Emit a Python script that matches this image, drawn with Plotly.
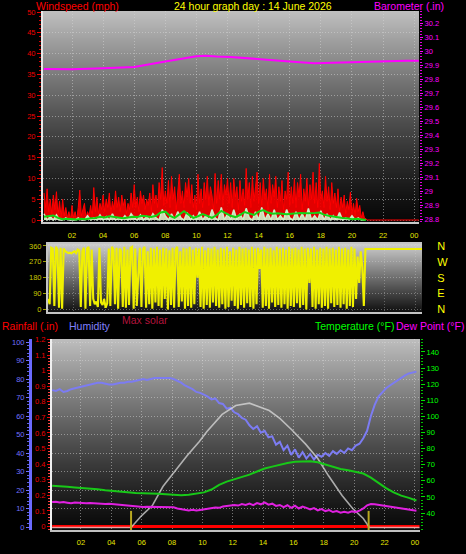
import numpy as np
import plotly.graph_objects as go

# ---------------- data ----------------
hour_ticks = [2, 4, 6, 8, 10, 12, 14, 16, 18, 20, 22, 24]
hour_labels = ["02", "04", "06", "08", "10", "12", "14", "16", "18", "20", "22", "00"]

# wind gust (mph), one reading every 0.1 h starting 00:12
gust_mph = [6.5, 3, 7.5, 2, 5, 1.5, 6, 2.5, 6.8,
            1, 4.5, 0.5, 5, 1, 3, 0.5, 2, 0, 3.5,
            0.5, 2, 0, 3, 7.2, 1, 2.5, 4, 0.5, 2,
            1, 3.5, 0.5, 7.8, 2, 5.5, 1.5, 4, 2.5, 6,
            2, 5, 3, 6.5, 1.5, 4.5, 2.5, 7, 3, 5.5,
            2, 6, 3.5, 5, 1.5, 4, 2.5, 6.5, 3, 8.5,
            3, 5.5, 2, 7, 4, 6, 2.5, 5, 3.5, 6.5,
            2, 8.5, 4, 6, 3, 9, 5, 12.6, 3.5, 7,
            4, 9.5, 3, 10.5, 5, 8, 2.5, 6.5, 11, 4,
            7, 3, 9, 5.5, 10, 4, 8.5, 3, 6, 2.5,
            11, 4, 7.5, 3, 9, 5, 10.5, 3.5, 8, 6,
            2.5, 11.2, 4, 9.5, 5, 11, 3.5, 8.5, 6, 10,
            4, 9, 3, 10, 5.5, 8, 2.5, 9.5, 4.5, 7.5,
            3.5, 12.4, 5, 9, 3, 10.5, 4.5, 8, 11.5, 4,
            9, 3.5, 10, 5, 7.5, 2.5, 11, 4, 8.5, 5.5,
            10.5, 3, 8, 4.5, 9.5, 2.5, 7, 5, 11.5, 3.5,
            8, 4, 10, 3, 9, 5.5, 11, 2.5, 7.5, 4.5,
            10, 3.5, 8.5, 5, 11.5, 4, 9, 3, 13.6, 5,
            7, 3, 10.5, 4.5, 8, 2.5, 9, 4, 6.5, 3,
            7.5, 2, 5.5, 3, 6, 1.5, 4.5, 2.5, 6.7, 1.5,
            4, 1, 5.2, 2, 3.5, 0.5, 2, 0.5, 0.2]
gust_calm_hours = [21.0, 24.3]
gust_calm_mph = [0, 0]

# average wind (mph), every 0.3 h starting 00:12
avg_mph = [0.8, 1.0, 1.1, 0.5, 0.2, 0.3, 0.2, 0.1, 0.3, 0.2, 0.4, 0.5, 0.8, 0.6, 0.9,
           0.7, 0.5, 0.4, 0.6, 0.8, 0.7, 1.0, 0.9, 0.7, 1.0, 1.8, 2.0, 1.0, 0.5, 1.4,
           2.1, 1.3, 0.5, 0.9, 1.4, 1.0, 0.5, 1.2, 2.2, 1.6, 1.0, 0.7, 1.2, 1.9, 1.5,
           1.2, 2.0, 2.4, 1.8, 1.5, 1.6, 1.5, 1.4, 1.5, 1.6, 1.7, 1.6, 1.6, 1.7, 1.8,
           1.3, 1.0, 0.8, 0.6, 0.5, 0.4, 0.2, 0.3, 0.1, 0.0]

# instantaneous wind (mph), every 0.2 h starting 00:12
wind_mph = [1.5, 0, 0.8, 0, 1.2, 0, 0, 0.5, 0, 0,
            0, 0.5, 0, 0, 1, 0, 0.5, 0, 1.2, 0,
            0.8, 0, 1.5, 0, 0.5, 0, 1, 0, 1.5, 0.5,
            0, 1.2, 0, 0.8, 0, 1.5, 0.5, 0, 2.5, 1,
            0, 1.5, 0, 2, 0.5, 0, 1.8, 0, 1, 0,
            2, 0, 1, 0, 2.5, 0.5, 0, 3, 0, 1.5,
            0, 2.5, 0, 1.5, 0, 2.8, 0.5, 0, 2, 0,
            3, 0, 1.5, 0, 2.5, 0, 1, 0, 2.5, 0.5,
            0, 2, 0, 1.5, 0, 2.8, 0, 1, 0, 2.2,
            0, 1.5, 0, 1, 0, 1.8, 0, 0.5, 0, 1,
            0, 0.5, 0, 0]

# barometer (in)
baro_hours = [0.2, 2, 4, 6, 8, 9, 10, 10.6, 11.3, 12.2, 13, 14.1, 15, 16.2, 17.6, 18.5, 20, 21, 22.6, 23.5, 24.3]
baro_in = [29.871, 29.870, 29.876, 29.886, 29.925, 29.945, 29.962, 29.966, 29.960, 29.958, 29.952,
           29.942, 29.934, 29.923, 29.912, 29.915, 29.920, 29.924, 29.933, 29.931, 29.930]

# wind direction (deg), every 0.1 h starting 00:24
dir_deg = [60, 30, 350, 345, 20, 355, 340, 10, 350, 5,
           345, 330, 325, 320, 322, 318, 325, 330, 320, 340,
           335, 15, 330, 350, 5, 345, 355, 20, 340, 60,
           30, 45, 15, 350, 40, 25, 60, 10, 35, 345,
           20, 355, 340, 30, 350, 5, 345, 330, 15, 355,
           10, 340, 25, 350, 355, 5, 345, 20, 200, 350,
           15, 340, 355, 10, 330, 30, 350, 5, 345, 40,
           355, 20, 340, 10, 350, 60, 345, 0, 335, 25,
           350, 10, 340, 355, 15, 330, 45, 350, 5, 345,
           20, 355, 10, 340, 30, 350, 180, 345, 15, 355,
           5, 335, 25, 350, 10, 345, 40, 355, 20, 340,
           10, 350, 30, 345, 5, 355, 15, 330, 50, 350,
           20, 340, 5, 355, 25, 345, 10, 350, 35, 340,
           15, 355, 5, 345, 30, 350, 230, 340, 10, 355,
           20, 345, 5, 350, 40, 335, 15, 355, 25, 345,
           10, 350, 30, 340, 5, 355, 20, 345, 15, 350,
           35, 340, 10, 355, 25, 345, 0, 350, 150, 345,
           15, 355, 5, 340, 30, 350, 10, 345, 20, 355,
           5, 345, 35, 350, 15, 340, 25, 355, 10, 345,
           30, 350, 5, 340, 20, 355, 15, 345, 60, 300,
           150, 330, 240, 20, 343]
dir_calm_hours = [21.0, 24.45]
dir_calm_deg = [343, 343]
dir_ticks = [0, 90, 180, 270, 360]
compass_labels = ["N", "E", "S", "W", "N"]

# humidity (%), every 0.25 h starting 00:06
humidity = [74, 73.5, 74.5, 73, 73.5, 74.5, 75, 75.5, 76, 76.5, 77, 77.5, 78, 78, 77.5, 77,
            77, 77.5, 78, 78, 78.5, 78.5, 79, 79.5, 80, 79.5, 80, 80.5, 80.5, 80.5, 80.5, 80.5,
            80, 79, 78, 76.5, 75.5, 74.5, 73, 72.5, 71.5, 70.5, 69, 69.5, 67, 66.5, 64, 64.5,
            62, 61, 59, 58, 55, 53, 54.5, 51, 52, 48.5, 49, 44.5, 46, 41.5, 44, 39,
            42, 37.5, 40.5, 37, 39.5, 36.5, 39, 38, 40, 38.5, 41, 39.5, 41.5, 40, 42.5, 41.5,
            44, 45, 48, 52, 60, 66, 70.5, 73, 75, 76.5, 78, 79.5, 81, 82, 83, 83.5, 84]

# temperature (F), every 0.5 h starting 00:06
temperature = [57.0, 56.8, 56.3, 55.9, 55.6, 55.4, 54.8, 54.2, 53.7, 53.0, 52.5, 52.4, 52.3,
               52.3, 52.0, 51.6, 51.3, 51.0, 51.4, 52.2, 52.8, 54.6, 57.5, 59.5, 61.0, 62.5,
               63.8, 65.8, 67.6, 68.8, 70.0, 71.0, 71.8, 72.0, 72.2, 71.5, 70.0, 68.5, 67.3,
               66.6, 65.6, 64.5, 62.0, 58.5, 55.5, 52.8, 50.8, 49.4, 47.8]

# dew point (F), every 0.25 h starting 00:06
dew_point = [46.9, 47, 46.5, 46.8, 46.4, 46, 46.5, 46.2, 46.3, 46, 46.2, 46, 45.8, 45.9, 45.6, 45.7,
             45.5, 45, 44.8, 44.6, 44.4, 44.2, 44, 44, 43.8, 43.9, 43.8, 43.7, 43.8, 43.6, 43.7, 43.6,
             43.5, 42.8, 42.3, 42.2, 41.6, 42, 41.5, 41.9, 42.2, 42.8, 43, 43.4, 43.2, 44, 44.3, 44.8,
             45, 44.6, 45.5, 45, 45.8, 44.9, 46.2, 45.4, 46.6, 45.2, 45.8, 44.4, 45, 43.6, 44.8, 43.2,
             44.6, 42.8, 44, 43.2, 42.2, 43, 41.6, 42.4, 41.2, 41.8, 40.6, 41.2, 40.2, 40.8, 40.2, 41,
             40.6, 41.5, 42.8, 44.8, 45.6, 45.4, 45, 44.8, 44.5, 44.1, 43.8, 43.3, 43, 42.6, 42.2, 41.8,
             41.4]

# max solar (W/m2)
solar_hours = [0.1, 5.3, 6.0, 6.7, 7.4, 8.2, 9.0, 9.8, 10.3, 11.3, 12.2, 13.1, 14.4, 15.1,
               15.9, 16.8, 17.6, 18.3, 19.2, 19.9, 20.6, 21.0, 24.3]
solar_wm2 = [0, 0, 86, 158, 295, 410, 518, 619, 691, 814, 878, 895, 842, 785,
             702, 600, 497, 374, 230, 137, 65, 0, 0]

# rainfall (in)
rain_hours = [0.1, 24.3]
rain_in = [0, 0]

# sunrise / sunset
sun_hours = [5.3, 20.95]

temp_ticks = [40, 50, 60, 70, 80, 90, 100, 110, 120, 130, 140]


def series_hours(start, step, values):
    return list(np.round(start + step * np.arange(len(values)), 3))


gust_x = series_hours(0.2, 0.1, gust_mph) + gust_calm_hours
gust_y = gust_mph + gust_calm_mph
avg_x = series_hours(0.2, 0.3, avg_mph)
wind_x = series_hours(0.2, 0.2, wind_mph)
dir_x = series_hours(0.4, 0.1, dir_deg) + dir_calm_hours
dir_y = dir_deg + dir_calm_deg
hum_x = series_hours(0.1, 0.25, humidity)
temp_x = series_hours(0.1, 0.5, temperature)
dew_x = series_hours(0.1, 0.25, dew_point)

# ---------------- geometry helpers ----------------
W, H = 466, 554
FONT = "Liberation Sans, Arial, sans-serif"
GRID = "rgba(215,215,215,0.5)"
GDASH = "1px,2px"


def px(x):
    return x / W


def py(y):
    return 1 - y / H


fig = go.Figure()

# top panel
fig.add_trace(go.Scatter(x=gust_x, y=gust_y, mode="lines", line=dict(color="#ff0000", width=1),
                         fill="tozeroy", fillcolor="rgba(238,0,0,0.95)", xaxis="x", yaxis="y",
                         hoverinfo="skip"))
fig.add_trace(go.Scatter(x=wind_x, y=wind_mph, mode="lines", line=dict(color="#cfeec8", width=1.5),
                         fill="tozeroy", fillcolor="rgba(205,238,198,0.9)", xaxis="x", yaxis="y",
                         hoverinfo="skip"))
fig.add_trace(go.Scatter(x=avg_x, y=avg_mph, mode="lines", line=dict(color="#14d414", width=2),
                         xaxis="x", yaxis="y", hoverinfo="skip"))
fig.add_trace(go.Scatter(x=baro_hours, y=baro_in, mode="lines", line=dict(color="#ff00ff", width=2),
                         xaxis="x", yaxis="y2", hoverinfo="skip"))

# middle panel
fig.add_trace(go.Scatter(x=dir_x, y=dir_y, mode="lines", line=dict(color="#f0f000", width=2.1),
                         xaxis="x2", yaxis="y3", hoverinfo="skip"))
fig.add_trace(go.Scatter(x=dir_calm_hours, y=dir_calm_deg, mode="markers", marker=dict(opacity=0),
                         xaxis="x2", yaxis="y4", hoverinfo="skip"))

# bottom panel
fig.add_trace(go.Scatter(x=rain_hours, y=rain_in, mode="lines", line=dict(color="#ff0000", width=3),
                         xaxis="x3", yaxis="y5", hoverinfo="skip"))
fig.add_trace(go.Scatter(x=hum_x, y=humidity, mode="lines", line=dict(color="#7c7cf2", width=2),
                         xaxis="x3", yaxis="y6", hoverinfo="skip"))
fig.add_trace(go.Scatter(x=solar_hours, y=solar_wm2, mode="lines", line=dict(color="rgba(228,228,228,0.7)", width=1.6),
                         xaxis="x3", yaxis="y7", hoverinfo="skip"))
fig.add_trace(go.Scatter(x=temp_x, y=temperature, mode="lines", line=dict(color="#18c818", width=2),
                         xaxis="x3", yaxis="y8", hoverinfo="skip"))
fig.add_trace(go.Scatter(x=dew_x, y=dew_point, mode="lines", line=dict(color="#e020e0", width=2),
                         xaxis="x3", yaxis="y8", hoverinfo="skip"))

# ---------------- background gradients ----------------
shapes = []


def gradient(x0, x1, y0, y1, c_top, c_bot, gamma):
    n = int(y1 - y0)
    for i in range(n):
        fm = (i + 0.5) / n
        v = int(round(c_bot + (c_top - c_bot) * (1 - fm) ** gamma))
        ya = y0 + i
        yb = min(y0 + i + 2, y1)
        shapes.append(dict(type="rect", xref="paper", yref="paper", layer="below",
                           x0=px(x0), x1=px(x1), y0=py(ya), y1=py(yb),
                           fillcolor=f"rgb({v},{v},{v})", line=dict(width=0)))


gradient(43, 419, 11, 222, 192, 8, 1.3)
gradient(48, 422, 244, 312, 205, 15, 1.0)
gradient(52, 420, 339, 530, 190, 8, 1.2)

for h in sun_hours:
    shapes.append(dict(type="line", xref="x3", yref="y5 domain", x0=h, x1=h, y0=0, y1=0.1,
                       line=dict(color="#b8a820", width=2), layer="above"))

# ---------------- annotations ----------------
def label(text, x, y, color, size=10.5, anchor="left"):
    return dict(text=text, x=px(x), y=py(y), xref="paper", yref="paper", showarrow=False,
                xanchor=anchor, yanchor="middle", font=dict(color=color, size=size, family=FONT))


annotations = [
    label("Windspeed (mph)", 34, 6, "#ff0000"),
    label("24 hour graph day : 14 June 2026", 172, 6, "#ffff00"),
    label("Barometer (.in)", 372, 6, "#ff00ff"),
    label("Max solar", 120, 320, "#b4143c"),
    label("Rainfall (.in)", 0, 326, "#ff0000"),
    label("Humidity", 67, 326, "#8080ff"),
    label("Temperature (°F)", 313, 326, "#00ff00"),
    label("Dew Point (°F)", 394, 326, "#ff00ff"),
]

tickf = lambda c, s=7.5: dict(color=c, size=s, family=FONT)

fig.update_layout(
    width=W, height=H, autosize=False, template="none",
    margin=dict(l=0, r=0, t=0, b=0, pad=0),
    paper_bgcolor="black", plot_bgcolor="rgba(0,0,0,0)",
    showlegend=False, font=dict(family=FONT),
    shapes=shapes, annotations=annotations,
    xaxis=dict(domain=[px(43), px(419)], range=[0.135, 24.31], anchor="y",
               tickmode="array", tickvals=hour_ticks, ticktext=hour_labels, tickfont=tickf("#e6e600"),
               ticks="outside", ticklen=5, tickcolor="rgba(0,0,0,0)",
               showgrid=True, gridcolor=GRID, griddash=GDASH, gridwidth=1,
               showline=True, linecolor="#c8c8c8", linewidth=2, zeroline=False),
    yaxis=dict(domain=[py(222), py(11)], range=[-0.48, 50.24], anchor="x",
               tick0=0, dtick=5, tickfont=tickf("#ee0000"),
               ticks="outside", ticklen=4, tickcolor="#ee0000",
               minor=dict(tickmode="linear", tick0=0, dtick=1, ticklen=2, tickcolor="#d00000", ticks="outside"),
               showgrid=True, gridcolor=GRID, griddash=GDASH,
               showline=True, linecolor="#e8e8e8", linewidth=2, zeroline=False),
    yaxis2=dict(overlaying="y", side="right", anchor="x", range=[28.7786, 30.2857],
                tick0=28.8, dtick=0.1, tickfont=tickf("#ff00ff"),
                ticks="outside", ticklen=3, tickcolor="#ff00ff",
                minor=dict(tickmode="linear", tick0=28.8, dtick=0.02, ticklen=2, tickcolor="#e000e0", ticks="outside"),
                showgrid=False, showline=False, zeroline=False),
    xaxis2=dict(domain=[px(48), px(422)], range=[0.392, 24.44], anchor="y3",
                tickmode="array", tickvals=hour_ticks, showticklabels=False, ticks="",
                showgrid=True, gridcolor="rgba(215,215,215,0.35)", griddash=GDASH,
                showline=True, mirror=True, linecolor="#c4c4c4", linewidth=2, zeroline=False),
    yaxis3=dict(domain=[py(312), py(244)], range=[-14.2, 371.3], anchor="x2",
                tickmode="array", tickvals=dir_ticks, tickfont=tickf("#c8c800"),
                ticks="outside", ticklen=3, tickcolor="#a0a000",
                showgrid=True, gridcolor="rgba(215,215,215,0.4)", griddash=GDASH,
                showline=True, linecolor="#c4c4c4", linewidth=2, zeroline=False),
    yaxis4=dict(overlaying="y3", side="right", anchor="x2", range=[-14.2, 371.3],
                tickmode="array", tickvals=dir_ticks, ticktext=compass_labels, tickfont=tickf("#ffff00", 11),
                ticks="outside", ticklen=12, tickcolor="rgba(0,0,0,0)",
                showgrid=False, showline=False, zeroline=False),
    xaxis3=dict(domain=[px(52), px(420)], range=[0.092, 24.335], anchor="y5",
                tickmode="array", tickvals=hour_ticks, ticktext=hour_labels, tickfont=tickf("#e6e600"),
                ticks="outside", ticklen=4, tickcolor="rgba(0,0,0,0)",
                showgrid=True, gridcolor=GRID, griddash=GDASH,
                showline=True, linecolor="#c0c0c0", linewidth=2, zeroline=False),
    yaxis5=dict(domain=[py(530), py(339)], range=[-0.022, 1.2026], anchor="x3",
                tick0=0, dtick=0.1, tickfont=tickf("#ee0000"),
                ticks="outside", ticklen=3, tickcolor="#ee0000",
                minor=dict(tickmode="linear", tick0=0, dtick=0.02, ticklen=2, tickcolor="#ff4040", ticks="outside"),
                showgrid=False, showline=True, linecolor="#f0f0f0", linewidth=2, zeroline=False),
    yaxis6=dict(overlaying="y5", anchor="free", position=px(30), side="left", range=[-1.62, 101.62],
                tick0=0, dtick=10, tickfont=tickf("#7070ff"),
                ticks="outside", ticklen=3, tickcolor="#7070ff",
                minor=dict(tickmode="linear", tick0=0, dtick=2, ticklen=2, tickcolor="#6060e0", ticks="outside"),
                showgrid=True, gridcolor=GRID, griddash=GDASH,
                showline=True, linecolor="#6a6aff", linewidth=3, zeroline=False),
    yaxis7=dict(overlaying="y5", anchor="x3", range=[-18, 1357], visible=False),
    yaxis8=dict(overlaying="y5", side="right", anchor="x3", range=[29.44, 148.07],
                tickmode="array", tickvals=temp_ticks, tickfont=tickf("#00ff00"),
                ticks="outside", ticklen=4, tickcolor="#00e000",
                minor=dict(tickmode="linear", tick0=0, dtick=2, ticklen=2, tickcolor="#00c000", ticks="outside"),
                showgrid=False, showline=False, zeroline=False),
)

fig.write_html("out.html", config={"displayModeBar": False},
               post_script="document.body.style.margin='0';document.body.style.overflow='hidden';")
